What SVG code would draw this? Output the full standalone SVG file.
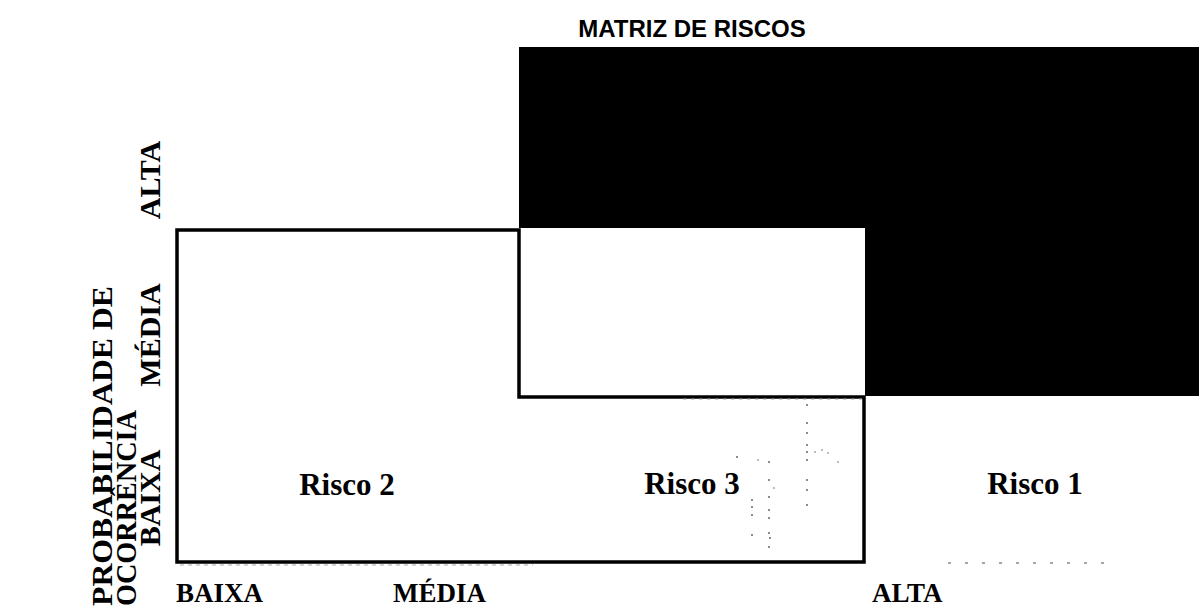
<svg xmlns="http://www.w3.org/2000/svg" width="1199" height="608" viewBox="0 0 1199 608">
<style>
.title{font-family:"Liberation Sans",Arial,sans-serif;font-weight:bold;font-size:24px;fill:#000}
.ax{font-family:"Liberation Serif","Times New Roman",serif;font-weight:bold;font-size:30px;fill:#000}
.bx{font-family:"Liberation Serif","Times New Roman",serif;font-weight:bold;font-size:27px;fill:#000}
.rk{font-family:"Liberation Serif","Times New Roman",serif;font-weight:bold;font-size:31px;fill:#000}
.speck{fill:#666}
</style>
<rect width="1199" height="608" fill="#fff"/>
<text class="title" x="692" y="37" text-anchor="middle">MATRIZ DE RISCOS</text>
<g id="high-zone">
<path d="M519,47 H1199 V396 H865 V228 H519 Z" fill="#000"/>
</g>
<g id="low-zone">
<path d="M177,230 H519 V397 H864 V562 H177 Z" fill="none" stroke="#000" stroke-width="3.5"/>
</g>
<g id="specks">
<line x1="683" y1="399" x2="862" y2="399" stroke="#999" stroke-width="1" stroke-dasharray="3 5"/>
<line x1="180" y1="565" x2="533" y2="565" stroke="#aaa" stroke-width="1" stroke-dasharray="4 4"/>
<line x1="948" y1="563" x2="1112" y2="563" stroke="#888" stroke-width="1.5" stroke-dasharray="3 14"/>
<circle class="speck" cx="807" cy="405" r="1"/>
<circle class="speck" cx="807" cy="423" r="1"/>
<circle class="speck" cx="807" cy="433" r="1"/>
<circle class="speck" cx="807" cy="445" r="1"/>
<circle class="speck" cx="807" cy="452" r="1"/>
<circle class="speck" cx="807" cy="460" r="1"/>
<circle class="speck" cx="807" cy="480" r="1"/>
<circle class="speck" cx="807" cy="490" r="1"/>
<circle class="speck" cx="807" cy="505" r="1"/>
<circle class="speck" cx="815" cy="452" r="0.8"/>
<circle class="speck" cx="822" cy="450" r="0.8"/>
<circle class="speck" cx="828" cy="453" r="0.8"/>
<circle class="speck" cx="838" cy="462" r="0.8"/>
<circle class="speck" cx="752" cy="500" r="1"/>
<circle class="speck" cx="752" cy="507" r="1"/>
<circle class="speck" cx="752" cy="515" r="1"/>
<circle class="speck" cx="752" cy="535" r="1"/>
<circle class="speck" cx="769" cy="462" r="1"/>
<circle class="speck" cx="769" cy="480" r="1"/>
<circle class="speck" cx="769" cy="497" r="1"/>
<circle class="speck" cx="769" cy="510" r="1"/>
<circle class="speck" cx="769" cy="518" r="1"/>
<circle class="speck" cx="769" cy="533" r="1"/>
<circle class="speck" cx="770" cy="538" r="1"/>
<circle class="speck" cx="769" cy="547" r="1"/>
<circle class="speck" cx="737" cy="457" r="1"/>
<circle class="speck" cx="758" cy="460" r="0.8"/>
<circle class="speck" cx="774" cy="488" r="0.8"/>
</g>
<g id="risco-2"><text class="rk" x="347" y="495" text-anchor="middle">Risco 2</text></g>
<g id="risco-3"><text class="rk" x="692" y="494" text-anchor="middle">Risco 3</text></g>
<g id="risco-1"><text class="rk" x="1035" y="494" text-anchor="middle">Risco 1</text></g>
<g id="y-axis">
<text class="ax" transform="translate(112,606) rotate(-90)" textLength="320" lengthAdjust="spacingAndGlyphs">PROBABILIDADE DE</text>
<text class="ax" transform="translate(136,606) rotate(-90)" textLength="196" lengthAdjust="spacingAndGlyphs">OCORRÊNCIA</text>
<text class="ax" transform="translate(160,180) rotate(-90)" text-anchor="middle">ALTA</text>
<text class="ax" transform="translate(160,335) rotate(-90)" text-anchor="middle">MÉDIA</text>
<text class="ax" transform="translate(160,498) rotate(-90)" text-anchor="middle">BAIXA</text>
</g>
<g id="x-axis">
<text class="bx" x="176" y="602">BAIXA</text>
<text class="bx" x="393" y="602">MÉDIA</text>
<text class="bx" x="872" y="602">ALTA</text>
</g>
</svg>
